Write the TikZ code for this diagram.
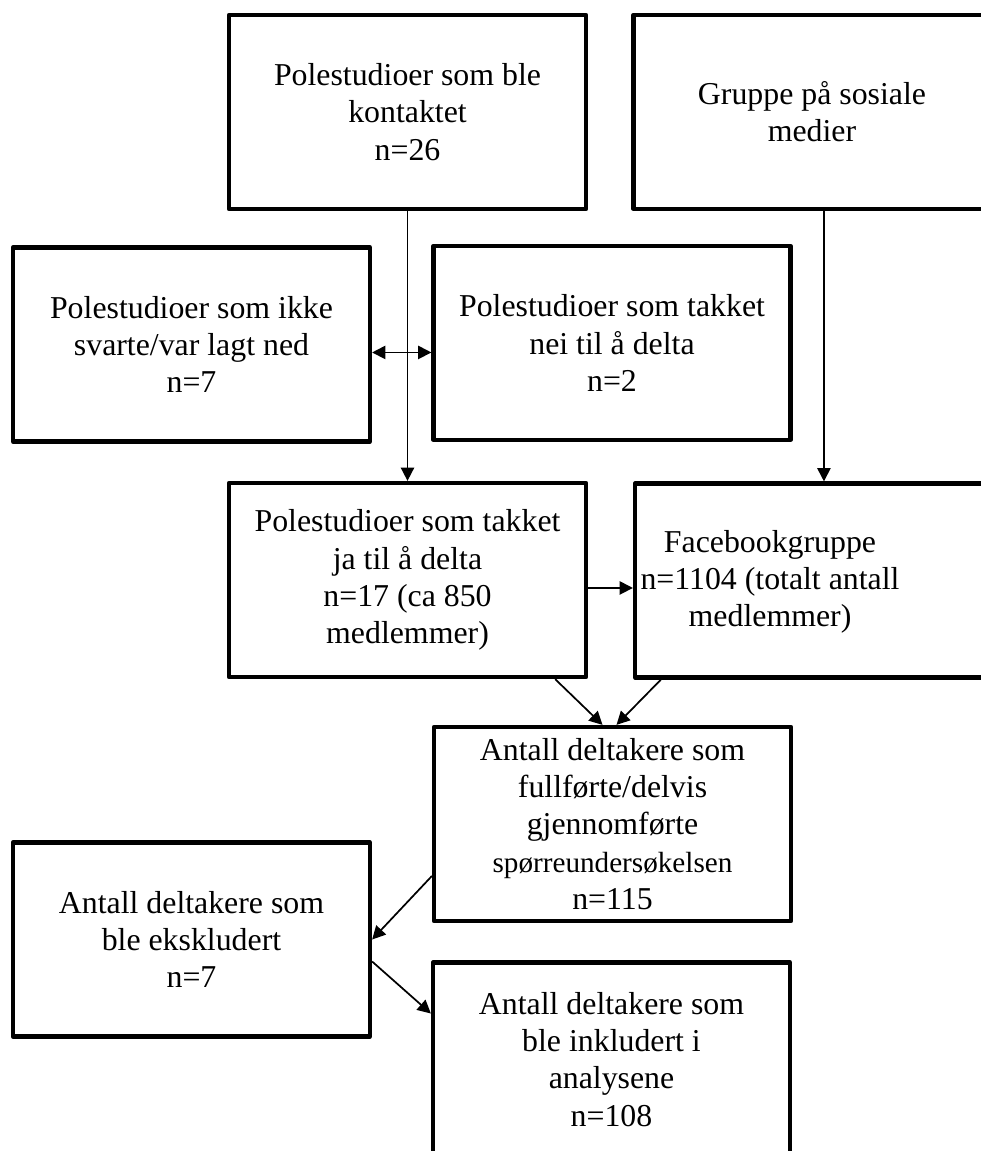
\documentclass[tikz,border=0pt]{standalone}
\usepackage{fontspec}
\setmainfont{Liberation Serif}
\usetikzlibrary{arrows.meta}

\newlength{\px}
\setlength{\px}{0.377pt}

\tikzset{
  boks/.style={draw, line width=1.6pt, line join=round, align=center,
               minimum width=357\px, minimum height=194\px, inner sep=0pt,
               font=\fontsize{12}{14}\selectfont},
  pil/.style={line width=0.65pt, -{Triangle[length=5pt,width=5pt]}},
  dobbelpil/.style={line width=0.65pt,
               {Triangle[length=5pt,width=5pt]}-{Triangle[length=5pt,width=5pt]}}
}

\begin{document}
\begin{tikzpicture}[x=\px, y=-\px]

  % --- Bildeutsnitt ---
  \useasboundingbox (0,0) rectangle (981,1151);
  \clip (0,0) rectangle (981,1151);

  % --- Bokser ---
  \node[boks] (kontakt)  at (407.5,112)  {Polestudioer som ble\\kontaktet\\n=26};
  \node[boks] (sosial)   at (812,112)    {Gruppe på sosiale\\medier};
  \node[boks] (ikkesvar) at (191.5,344.5) {Polestudioer som ikke\\svarte/var lagt ned\\n=7};
  \node[boks] (nei)      at (612,343)    {Polestudioer som takket\\nei til å delta\\n=2};
  \node[boks] (ja)       at (407.5,580)  {Polestudioer som takket\\ja til å delta\\n=17 (ca 850\\medlemmer)};
  \node[boks] (face)     at (813.5,580.5) {};
  \node[align=center, font=\fontsize{12}{14}\selectfont] (facetekst) at (770,582)
      {Facebookgruppe\\n=1104 (totalt antall\\medlemmer)};
  \node[boks] (fullfort) at (612.5,824)
      {Antall deltakere som\\fullførte/delvis\\gjennomførte\\{\fontsize{11}{14}\selectfont spørreundersøkelsen}\\n=115};
  \node[boks] (ekskl)    at (191.5,939.5) {Antall deltakere som\\ble ekskludert\\n=7};
  \node[boks] (inkl)     at (611.5,1059.5) {Antall deltakere som\\ble inkludert i\\analysene\\n=108};

  % --- Piler ---
  \draw[pil] (kontakt.south) -- (ja.north);
  \draw[dobbelpil] ([yshift=-3pt]ikkesvar.east) -- ([yshift=-3pt]ikkesvar.east -| nei.west);
  \draw[pil] ([xshift=4.5pt]sosial.south) -- ([xshift=4.5pt]sosial.south |- face.north);
  \draw[pil] ([yshift=-3pt]ja.east) -- ([yshift=-3pt]ja.east -| face.west);
  \draw[pil] ([xshift=-33\px]ja.south east) -- ([xshift=-10\px]fullfort.north);
  \draw[pil] ([xshift=28\px]face.south west) -- ([xshift=4\px]fullfort.north);
  \draw[pil] ([yshift=-52\px]fullfort.west) -- (ekskl.east);
  \draw[pil] ([yshift=-22\px]ekskl.east) -- ([yshift=46\px]inkl.west);

\end{tikzpicture}
\end{document}
